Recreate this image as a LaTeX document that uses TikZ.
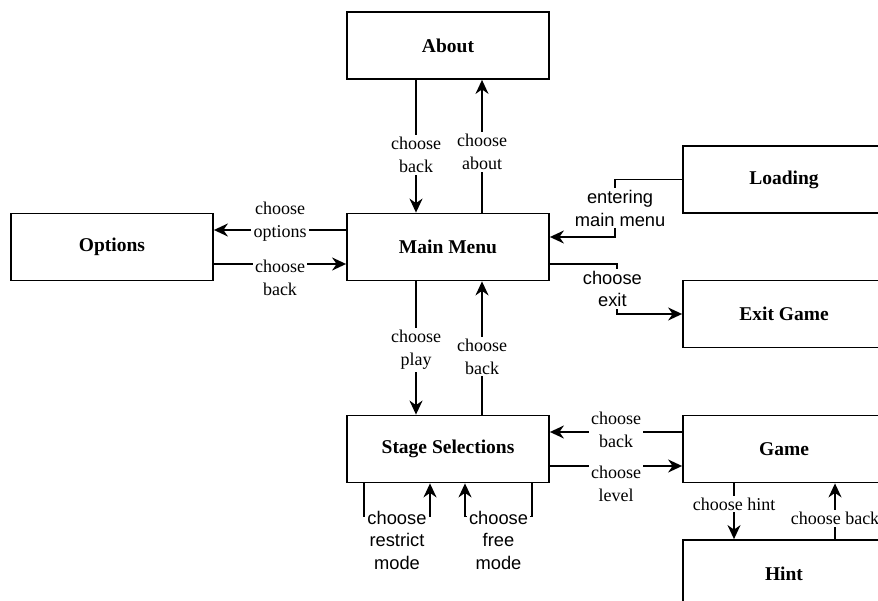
\documentclass[tikz,border=0pt]{standalone}
\usepackage{fontspec}
\setmainfont{Liberation Serif}
\newfontfamily\arialfont{Liberation Sans}
\usetikzlibrary{arrows.meta}
\tikzset{
  box/.style={draw, line width=1.8pt, minimum width=202pt, minimum height=67pt, inner sep=0pt,
    font=\fontsize{19.5}{23}\selectfont\bfseries},
  arr/.style={line width=1.7pt, -{Stealth[length=14pt,width=13pt,inset=4.5pt]}},
  lbl/.style={fill=white, inner sep=2pt, align=center, font=\fontsize{18}{23}\selectfont},
  slbl/.style={lbl, font=\arialfont\fontsize{18.3}{22.5}\selectfont},
}
\begin{document}
\begin{tikzpicture}[x=1pt, y=-1pt]
\clip (0,0) rectangle (878,601);
\fill[white] (0,0) rectangle (878,601);
% boxes
\node[box] (about)   at (448,45.5)  {About};
\node[box] (main)    at (448,247)   {Main Menu};
\node[box] (options) at (112,247)   {Options};
\node[box] (loading) at (784,179.5) {Loading};
\node[box] (exit)    at (784,314)   {Exit Game};
\node[box] (stage)   at (448,449)   {Stage Selections};
\node[box] (game)    at (784,449)   {Game};
\node[box] (hint)    at (784,573.5) {Hint};
% main <-> about
\draw[arr] ([xshift=34pt]main.north) -- node[lbl,pos=0.455] (l1) {choose\\about} ([xshift=34pt]about.south);
\draw[arr] ([xshift=-32pt]about.south) -- node[lbl,pos=0.567] (l2) {choose\\back} ([xshift=-32pt]main.north);
% main <-> options
\draw[arr] ([yshift=17pt]main.west) -- node[lbl,yshift=8pt] (l3) {choose\\options} ([yshift=17pt]options.east);
\draw[arr] ([yshift=-17pt]options.east) -- node[lbl,yshift=-14pt] (l4) {choose\\back} ([yshift=-17pt]main.west);
% loading -> main
\draw[arr] (loading.west) -- ++(-67,0) -- node[slbl,xshift=5pt] (l5) {entering\\main menu} ++(0,57.5) -- ([yshift=10pt]main.east);
% main -> exit
\draw[arr] ([yshift=-17pt]main.east) -- ++(67,0) -- node[slbl,xshift=-4.5pt] (l6) {choose\\exit} ++(0,50) -- (exit.west);
% main <-> stage
\draw[arr] ([xshift=-32pt]main.south) -- node[lbl,pos=0.515] (l7) {choose\\play} ([xshift=-32pt]stage.north);
\draw[arr] ([xshift=34pt]stage.north) -- node[lbl,pos=0.437] (l8) {choose\\back} ([xshift=34pt]main.south);
% stage <-> game
\draw[arr] ([yshift=17pt]game.west) -- node[lbl,yshift=2pt] (l9) {choose\\back} ([yshift=17pt]stage.east);
\draw[arr] ([yshift=-17pt]stage.east) -- node[lbl,yshift=-18pt] (l10) {choose\\level} ([yshift=-17pt]game.west);
% stage self loops
\draw[arr] ([xshift=-84pt]stage.south) -- ++(0,33) -- node[slbl,yshift=-24pt] (l11) {choose\\restrict\\mode} ++(66,0) -- ([xshift=-18pt]stage.south);
\draw[arr] ([xshift=84pt]stage.south) -- ++(0,33) -- node[slbl,yshift=-24pt] (l12) {choose\\free\\mode} ++(-67,0) -- ([xshift=17pt]stage.south);
% game <-> hint
\draw[arr] ([xshift=-50pt]game.south) -- node[lbl,pos=0.37] (l13) {choose hint} ([xshift=-50pt]hint.north);
\draw[arr] ([xshift=51pt]hint.north) -- node[lbl,pos=0.37] (l14) {choose back} ([xshift=51pt]game.south);
\end{tikzpicture}
\end{document}
